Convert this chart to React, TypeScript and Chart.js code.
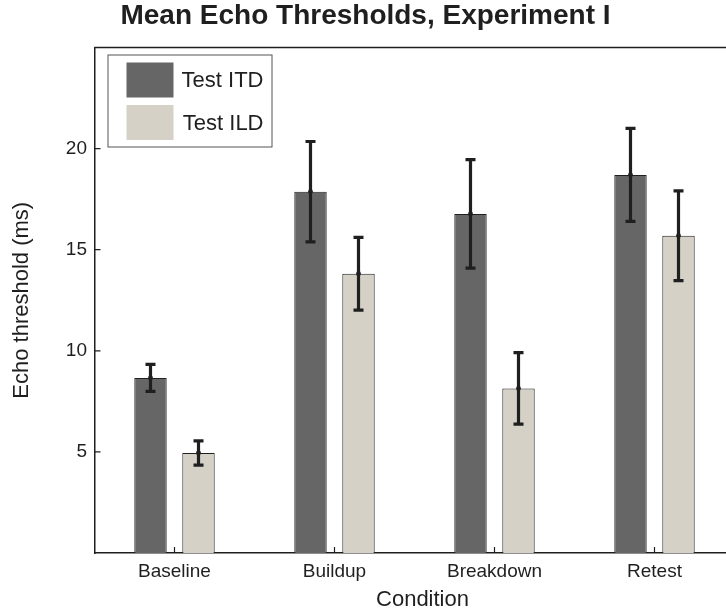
import React, { useEffect, useRef } from 'react';
import { Chart, registerables } from 'chart.js';

Chart.register(...registerables);

const conditions = ['Baseline', 'Buildup', 'Breakdown', 'Retest'];
const itdMeans = [8.66, 17.87, 16.77, 18.7];
const itdErrors = [0.67, 2.48, 2.68, 2.3];
const ildMeans = [4.95, 13.81, 8.14, 15.69];
const ildErrors = [0.6, 1.8, 1.77, 2.22];
const yTickValues = [5, 10, 15, 20];
const seriesLabels = ['Test ITD', 'Test ILD'];
const titleText = 'Mean Echo Thresholds, Experiment I';
const xTitleText = 'Condition';
const yTitleText = 'Echo threshold (ms)';

const FONT = '"Liberation Sans", Arial, Helvetica, sans-serif';
const INK = '#1f1f1f';
const ITD_COLOR = '#666666';
const ILD_COLOR = '#d5d1c6';

const errorsByDataset = [itdErrors, ildErrors];

const decorPlugin = {
  id: 'decor',
  afterDatasetsDraw(chart: any) {
    const { ctx, chartArea } = chart;
    const yScale = chart.scales.y;
    const xScale = chart.scales.x;
    ctx.save();
    // error bars
    chart.data.datasets.forEach((ds: any, i: number) => {
      const meta = chart.getDatasetMeta(i);
      const errs = errorsByDataset[i];
      meta.data.forEach((bar: any, j: number) => {
        const v = ds.data[j];
        const e = errs[j];
        const yTop = yScale.getPixelForValue(v + e);
        const yBot = yScale.getPixelForValue(v - e);
        const x = bar.x;
        ctx.strokeStyle = INK;
        ctx.lineWidth = 3.2;
        ctx.beginPath();
        ctx.moveTo(x, yTop);
        ctx.lineTo(x, yBot);
        ctx.stroke();
        ctx.lineWidth = 3.2;
        ctx.beginPath();
        ctx.moveTo(x - 5, yTop);
        ctx.lineTo(x + 5, yTop);
        ctx.moveTo(x - 5, yBot);
        ctx.lineTo(x + 5, yBot);
        ctx.stroke();
        ctx.fillStyle = INK;
        ctx.beginPath();
        ctx.arc(x, yScale.getPixelForValue(v), 2.4, 0, Math.PI * 2);
        ctx.fill();
      });
    });
    // frame top / right
    ctx.strokeStyle = INK;
    ctx.lineWidth = 1.5;
    ctx.beginPath();
    ctx.moveTo(chartArea.left, chartArea.top);
    ctx.lineTo(chartArea.right, chartArea.top);
    ctx.lineTo(chartArea.right, chartArea.bottom);
    ctx.stroke();
    // inward ticks
    ctx.lineWidth = 1.2;
    ctx.beginPath();
    yTickValues.forEach((v) => {
      const y = yScale.getPixelForValue(v);
      ctx.moveTo(chartArea.left, y);
      ctx.lineTo(chartArea.left + 6, y);
    });
    conditions.forEach((_, j) => {
      const x = xScale.getPixelForValue(j);
      ctx.moveTo(x, chartArea.bottom);
      ctx.lineTo(x, chartArea.bottom - 6);
    });
    ctx.stroke();
    // legend
    const bx = chartArea.left + 13.5;
    const by = chartArea.top + 7.5;
    const bw = 164;
    const bh = 92;
    ctx.fillStyle = '#ffffff';
    ctx.fillRect(bx, by, bw, bh);
    ctx.strokeStyle = '#555555';
    ctx.lineWidth = 1;
    ctx.strokeRect(bx, by, bw, bh);
    chart.data.datasets.forEach((ds: any, i: number) => {
      const sy = by + 7.5 + i * 42.5;
      ctx.fillStyle = ds.backgroundColor;
      ctx.fillRect(bx + 18.5, sy, 47, 35);
      ctx.fillStyle = INK;
      ctx.font = `22px ${FONT}`;
      ctx.textAlign = 'right';
      ctx.textBaseline = 'middle';
      ctx.fillText(ds.label, bx + bw - 8.5, sy + 18.5);
    });
    // titles
    ctx.fillStyle = INK;
    ctx.textAlign = 'center';
    ctx.textBaseline = 'alphabetic';
    ctx.font = `bold 28px ${FONT}`;
    ctx.fillText(titleText, 365.5, 23.5);
    ctx.font = `22px ${FONT}`;
    ctx.fillText(xTitleText, 422.5, 606);
    ctx.restore();
  },
};

export default function App() {
  const canvasRef = useRef<HTMLCanvasElement | null>(null);

  useEffect(() => {
    const canvas = canvasRef.current;
    if (!canvas) return;
    const chart = new Chart(canvas, {
      type: 'bar',
      data: {
        labels: conditions,
        datasets: [
          {
            label: seriesLabels[0],
            data: itdMeans,
            backgroundColor: ITD_COLOR,
            borderColor: INK,
            borderWidth: 1,
            categoryPercentage: 0.6,
            barPercentage: 0.675,
          },
          {
            label: seriesLabels[1],
            data: ildMeans,
            backgroundColor: ILD_COLOR,
            borderColor: INK,
            borderWidth: 1,
            categoryPercentage: 0.6,
            barPercentage: 0.675,
          },
        ],
      },
      options: {
        responsive: false,
        animation: false,
        devicePixelRatio: 1,
        layout: { padding: { top: 47.5, right: 7.5, left: 0, bottom: 0 } },
        plugins: {
          legend: { display: false },
          title: { display: false },
          tooltip: { enabled: false },
        },
        scales: {
          x: {
            grid: { display: false, drawTicks: false },
            border: { display: true, color: INK, width: 1.5 },
            ticks: {
              color: INK,
              font: { family: FONT, size: 19 },
              padding: 7.5,
            },
            afterFit: (s: any) => {
              s.height = 60;
            },
          },
          y: {
            min: 0,
            max: 25,
            grid: { display: false, drawTicks: false },
            border: { display: true, color: INK, width: 1.5 },
            ticks: {
              stepSize: 5,
              color: INK,
              font: { family: FONT, size: 19 },
              padding: 7.5,
              callback: (v: any) => (yTickValues.includes(Number(v)) ? String(v) : ''),
            },
            title: {
              display: true,
              text: yTitleText,
              color: INK,
              font: { family: FONT, size: 22 },
              padding: { top: 9, bottom: 0 },
            },
            afterFit: (s: any) => {
              s.width = 94.5;
            },
          },
        },
      },
      plugins: [decorPlugin],
    });
    return () => chart.destroy();
  }, []);

  return (
    <div
      style={{
        position: 'absolute',
        left: 0,
        top: 0,
        width: 726,
        height: 613,
        overflow: 'hidden',
        background: '#ffffff',
      }}
    >
      <canvas ref={canvasRef} width={742} height={613} style={{ display: 'block' }} />
    </div>
  );
}
